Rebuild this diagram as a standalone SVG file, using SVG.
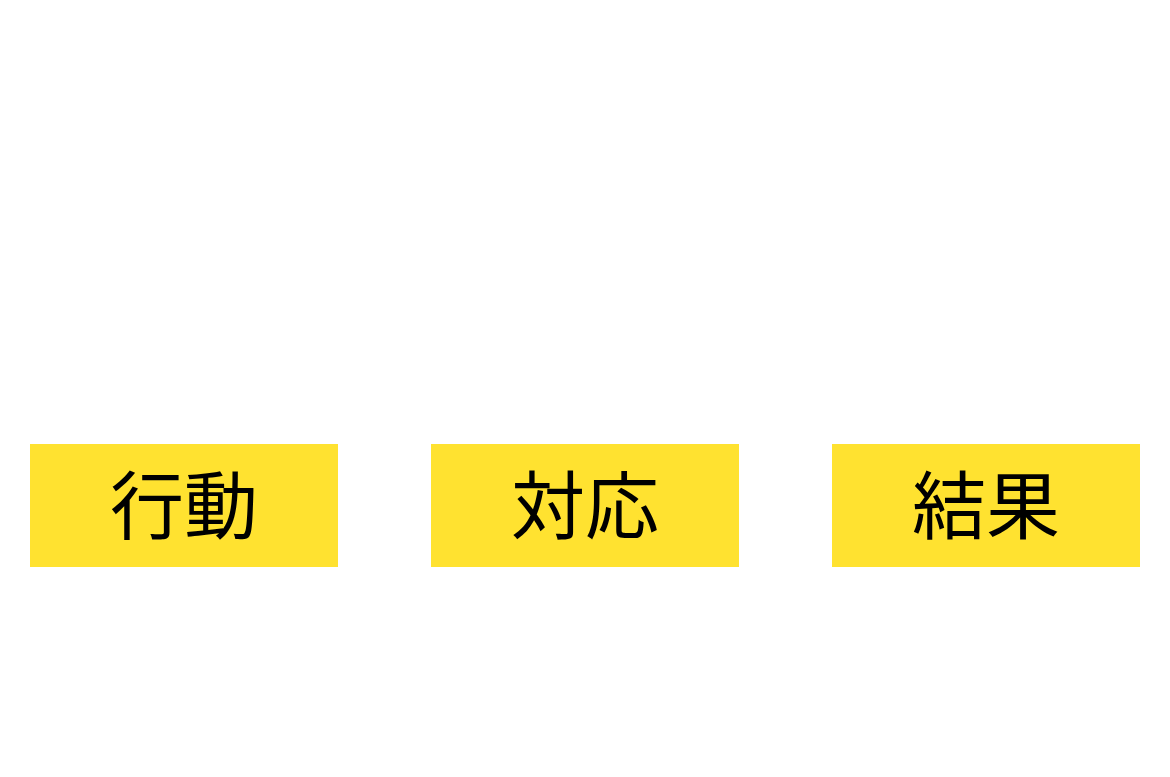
<svg xmlns="http://www.w3.org/2000/svg" width="1170" height="777" viewBox="0 0 1170 777">
<style>
.box{fill:#FFE230}
.lbl{font-family:"Noto Sans CJK JP","Noto Sans CJK SC",sans-serif;font-size:74px;fill:#000;text-anchor:middle}
</style>
<rect width="1170" height="777" fill="#fff"/>
<g id="connectors"></g>
<g id="node-action"><rect class="box" x="30" y="444" width="308" height="123"/><text class="lbl" x="184" y="533">行動</text></g>
<g id="node-response"><rect class="box" x="431" y="444" width="308" height="123"/><text class="lbl" x="585" y="533">対応</text></g>
<g id="node-result"><rect class="box" x="832" y="444" width="308" height="123"/><text class="lbl" x="986" y="533">結果</text></g>
</svg>
